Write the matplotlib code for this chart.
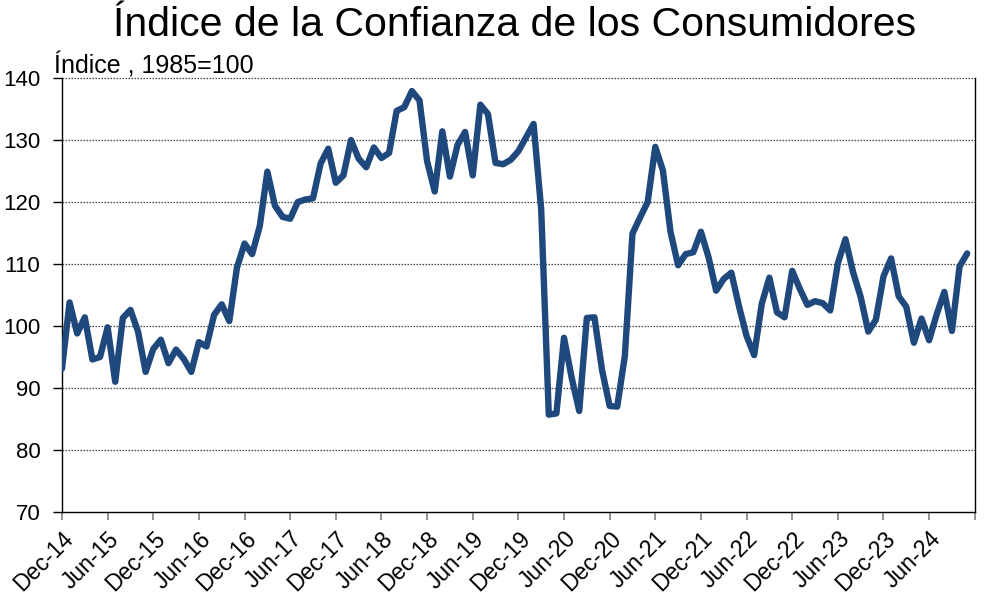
import numpy as np
import matplotlib
matplotlib.use("Agg")
import matplotlib.pyplot as plt

# Monthly index, Dec-14 .. Nov-24
values = [
    93.1, 103.8, 98.8, 101.4, 94.6, 95.0, 99.8, 91.0, 101.3, 102.6, 99.1, 92.6,   # Dec-14 .. Nov-15
    96.3, 97.8, 94.0, 96.2, 94.7, 92.6, 97.4, 96.7, 101.8, 103.5, 100.8, 109.4,   # Dec-15 .. Nov-16
    113.3, 111.6, 116.1, 124.9, 119.4, 117.6, 117.3, 120.0, 120.4, 120.6, 126.2, 128.6,  # Dec-16 .. Nov-17
    123.1, 124.3, 130.0, 127.0, 125.6, 128.8, 127.1, 127.9, 134.7, 135.3, 137.9, 136.4,  # Dec-17 .. Nov-18
    126.6, 121.7, 131.4, 124.1, 129.2, 131.3, 124.3, 135.7, 134.2, 126.3, 126.1, 126.8,  # Dec-18 .. Nov-19
    128.2, 130.4, 132.6, 118.8, 85.7, 85.9, 98.1, 91.7, 86.3, 101.3, 101.4, 92.9,   # Dec-19 .. Nov-20
    87.1, 87.0, 95.2, 114.9, 117.5, 120.0, 128.9, 125.1, 115.2, 109.8, 111.6, 111.9,   # Dec-20 .. Nov-21
    115.2, 111.1, 105.7, 107.6, 108.6, 103.2, 98.4, 95.3, 103.6, 107.8, 102.2, 101.4,  # Dec-21 .. Nov-22
    108.9, 106.0, 103.4, 104.0, 103.7, 102.5, 110.1, 114.0, 108.7, 104.7, 99.1, 101.0,  # Dec-22 .. Nov-23
    108.0, 110.9, 104.8, 103.1, 97.3, 101.2, 97.7, 101.9, 105.5, 99.2, 109.6, 111.7,   # Dec-23 .. Nov-24
]
tick_labels = ["Dec-14", "Jun-15", "Dec-15", "Jun-16", "Dec-16", "Jun-17", "Dec-17",
               "Jun-18", "Dec-18", "Jun-19", "Dec-19", "Jun-20", "Dec-20", "Jun-21",
               "Dec-21", "Jun-22", "Dec-22", "Jun-23", "Dec-23", "Jun-24", ""]
y_ticks = [70, 80, 90, 100, 110, 120, 130, 140]

plt.rcParams['font.family'] = ['Liberation Sans', 'DejaVu Sans']

fig = plt.figure(figsize=(9.9, 6.02), dpi=100)
ax = fig.add_axes([0.0626, 0.1495, 0.922, 0.7209])

months = np.arange(len(values))
ax.plot(months, values, color='#1F497D', lw=4.6, solid_joinstyle='round', solid_capstyle='round', zorder=3)

ax.set_xlim(0, 120)
ax.set_ylim(70, 140)
ax.set_yticks(y_ticks)
ax.set_yticklabels([str(v) for v in y_ticks], fontsize=16)
ax.set_xticks(np.arange(0, 121, 6))
ax.set_xticklabels(tick_labels, rotation=45, ha='right', rotation_mode='anchor', fontsize=16.5)

ax.tick_params(axis='x', length=6, color='#808080', width=1.2, pad=5)
ax.tick_params(axis='y', length=6.5, color='black', width=1, pad=9)

# dotted gridlines, the one at 140 stands in for the top border
for v in y_ticks[1:]:
    ax.axhline(v, color='#404040', lw=0.9, ls=(0, (1.2, 1.2)), zorder=1, clip_on=False)

ax.spines['top'].set_visible(False)
for s in ['left', 'right', 'bottom']:
    ax.spines[s].set_color('black')
    ax.spines[s].set_linewidth(1.0)

fig.text(0.52, 0.958, 'Índice de la Confianza de los Consumidores', ha='center', va='center', fontsize=29.5)
fig.text(0.055, 0.891, 'Índice , 1985=100', ha='left', va='center', fontsize=18)

fig.savefig('out.png', dpi=100)
